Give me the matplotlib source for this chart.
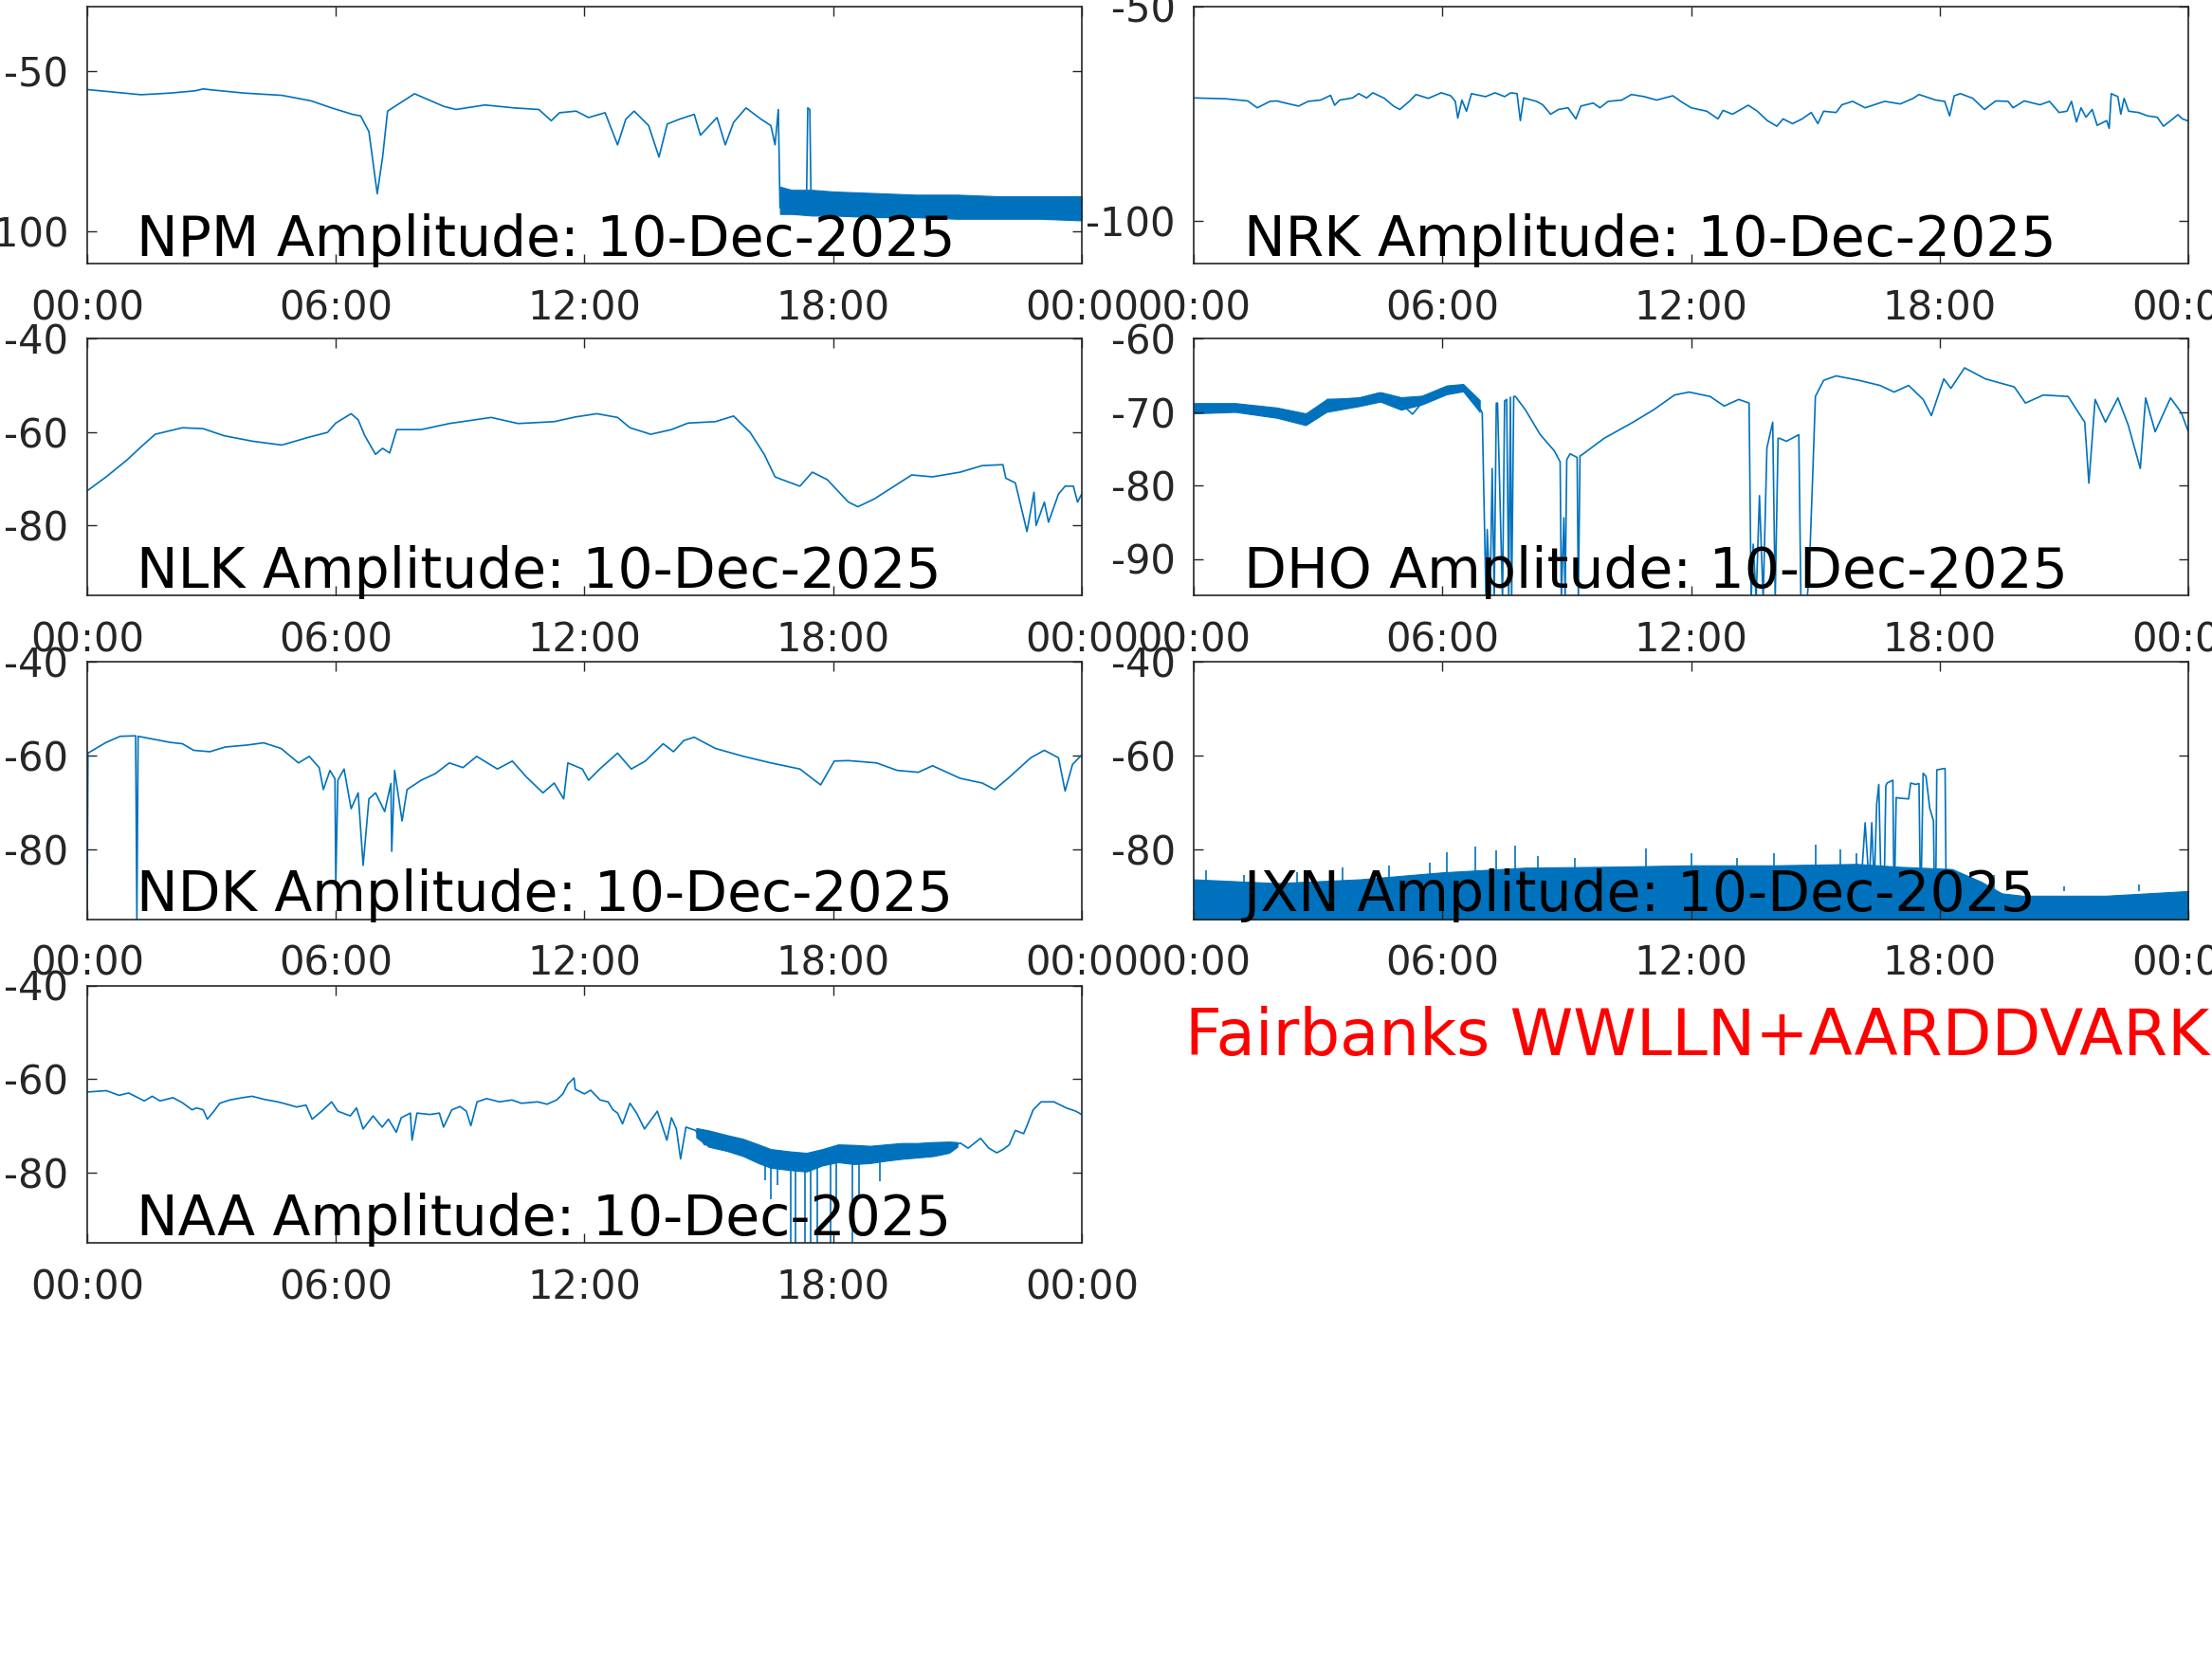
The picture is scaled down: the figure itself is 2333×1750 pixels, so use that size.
import matplotlib
matplotlib.use("Agg")
import matplotlib.pyplot as plt

# czas w godzinach (UTC), amplituda w dB
hour_ticks = [0, 6, 12, 18, 24]
hour_labels = ["00:00", "06:00", "12:00", "18:00", "00:00"]
date_str = "10-Dec-2025"

# --- NPM ---
npm_t = [0, 1.3, 2.0, 2.6, 2.8, 3.0, 3.8, 4.7, 5.4, 5.9,
         6.4, 6.6, 6.8, 7.0, 7.13, 7.25, 7.55, 7.9, 8.6, 8.9,
         9.6, 10.3, 10.9, 11.2, 11.4, 11.8, 12.1, 12.5, 12.8, 13.0,
         13.2, 13.55, 13.8, 14.0, 14.3, 14.65, 14.8, 15.2, 15.4, 15.6,
         15.9, 16.26, 16.5, 16.6, 16.68, 16.72, 16.8, 17.36, 17.39, 17.44,
         17.47, 24]
npm_v = [-55.8, -57.4, -56.9, -56.2, -55.6, -55.9, -56.9, -57.6, -59.3, -61.5,
         -63.5, -64.0, -68.9, -88.2, -76.8, -62.5, -60.0, -57.1, -61.0, -62.0,
         -60.6, -61.5, -62.0, -65.5, -63.0, -62.5, -64.5, -63.0, -73.0, -65.0,
         -62.5, -67.0, -76.8, -66.5, -65.0, -63.5, -70.0, -64.5, -73.0, -66.0,
         -61.5, -65.0, -67.0, -73.0, -62.0, -92.6, -90.0, -90.5, -61.5, -62.0,
         -91.5, -93.0]
npm_band_t = [16.72, 17.0, 17.5, 18.0, 19.0, 20.0, 21.0, 22.0, 23.0, 24.0]
npm_band_lo = [-94.5, -94.5, -95.0, -95.0, -95.5, -95.5, -96.0, -96.0, -96.0, -96.5]
npm_band_hi = [-86.0, -87.0, -87.0, -87.5, -88.0, -88.5, -88.5, -89.0, -89.0, -89.0]

# --- NRK ---
nrk_t = [0, 0.77, 1.3, 1.53, 1.84, 2.0, 2.3, 2.53, 2.76, 3.06,
         3.3, 3.4, 3.52, 3.83, 3.98, 4.17, 4.32, 4.6, 4.82, 4.97,
         5.2, 5.36, 5.66, 5.97, 6.2, 6.31, 6.37, 6.47, 6.58, 6.7,
         7.04, 7.27, 7.5, 7.65, 7.8, 7.88, 7.96, 8.27, 8.42, 8.61,
         8.8, 9.03, 9.22, 9.34, 9.64, 9.8, 10.0, 10.33, 10.56, 10.87,
         11.17, 11.56, 11.75, 12.0, 12.38, 12.65, 12.77, 13.0, 13.38, 13.6,
         13.84, 14.07, 14.22, 14.45, 14.68, 14.9, 15.06, 15.2, 15.5, 15.64,
         15.9, 16.2, 16.67, 17.05, 17.36, 17.5, 17.9, 18.12, 18.24, 18.35,
         18.5, 18.8, 19.08, 19.35, 19.65, 19.77, 20.04, 20.42, 20.65, 20.88,
         21.07, 21.18, 21.3, 21.41, 21.53, 21.68, 21.8, 22.03, 22.09, 22.14,
         22.3, 22.37, 22.45, 22.56, 22.8, 23.02, 23.25, 23.4, 23.56, 23.75,
         23.86, 24]
nrk_v = [-71.3, -71.5, -72.0, -73.6, -72.1, -72.0, -72.7, -73.2, -72.1, -71.8,
         -70.7, -73.0, -71.8, -71.3, -70.3, -71.3, -70.1, -71.4, -73.2, -74.0,
         -72.1, -70.5, -71.4, -70.1, -70.8, -72.1, -76.0, -71.8, -74.4, -70.3,
         -71.0, -70.1, -71.0, -70.1, -70.3, -76.6, -71.3, -72.1, -72.9, -75.1,
         -74.0, -73.6, -76.2, -73.2, -72.5, -73.6, -72.1, -71.8, -70.5, -71.0,
         -71.8, -70.8, -72.1, -73.6, -74.4, -76.2, -74.2, -75.1, -73.0, -74.4,
         -76.6, -77.9, -76.2, -77.3, -76.2, -74.7, -77.3, -74.4, -74.7, -72.9,
         -72.1, -73.6, -72.1, -72.7, -71.4, -70.5, -71.8, -72.1, -75.5, -70.8,
         -70.3, -71.4, -74.0, -72.0, -72.1, -73.6, -72.0, -72.9, -72.1, -74.7,
         -74.4, -72.1, -76.9, -73.6, -75.8, -74.0, -77.7, -76.6, -78.4, -70.3,
         -71.0, -75.1, -71.4, -74.4, -74.7, -75.5, -75.8, -77.9, -76.7, -75.2,
         -76.2, -76.7]

# --- NLK ---
nlk_t = [0, 0.46, 0.96, 1.3, 1.64, 2.3, 2.8, 3.3, 4.0, 4.7,
         5.36, 5.8, 6.0, 6.37, 6.54, 6.7, 6.96, 7.13, 7.3, 7.47,
         8.06, 8.74, 9.75, 10.4, 11.27, 11.78, 12.3, 12.8, 13.1, 13.6,
         14.1, 14.5, 15.16, 15.6, 16.0, 16.34, 16.6, 16.77, 17.2, 17.5,
         17.86, 18.37, 18.6, 19.0, 19.9, 20.4, 21.07, 21.6, 22.1, 22.17,
         22.4, 22.68, 22.85, 22.9, 23.1, 23.2, 23.44, 23.6, 23.8, 23.9,
         24]
nlk_v = [-72.6, -69.6, -66.0, -63.2, -60.5, -59.1, -59.3, -60.8, -62.0, -62.8,
         -61.1, -60.1, -58.1, -56.1, -57.4, -60.8, -64.8, -63.5, -64.5, -59.5,
         -59.5, -58.2, -56.9, -58.2, -57.8, -56.8, -56.1, -56.9, -59.1, -60.5,
         -59.5, -58.1, -57.8, -56.6, -60.1, -64.8, -69.6, -70.2, -71.6, -68.6,
         -70.2, -75.0, -76.0, -74.3, -69.2, -69.6, -68.6, -67.2, -67.0, -69.9,
         -70.9, -81.3, -72.9, -80.0, -75.0, -79.3, -73.3, -71.6, -71.6, -75.0,
         -73.3]

# --- DHO ---
dho_t = [0, 0.84, 1.7, 2.55, 2.9, 3.23, 3.9, 4.43, 4.94, 5.28,
         5.6, 6.1, 6.48, 6.74, 6.96, 7.05, 7.08, 7.15, 7.2, 7.25,
         7.3, 7.33, 7.45, 7.5, 7.55, 7.6, 7.64, 7.67, 7.72, 7.76,
         8.0, 8.36, 8.7, 8.84, 8.87, 8.93, 8.96, 9.0, 9.08, 9.25,
         9.28, 9.32, 9.4, 9.9, 10.6, 11.1, 11.6, 11.95, 12.46, 12.8,
         13.15, 13.4, 13.45, 13.5, 13.57, 13.65, 13.74, 13.83, 13.97, 14.03,
         14.1, 14.14, 14.3, 14.6, 14.65, 14.8, 14.85, 14.94, 15.0, 15.2,
         15.5, 16.05, 16.56, 16.9, 17.25, 17.6, 17.8, 18.1, 18.27, 18.6,
         19.1, 19.8, 20.07, 20.5, 21.1, 21.35, 21.5, 21.6, 21.75, 22.0,
         22.3, 22.55, 22.84, 22.97, 23.2, 23.57, 23.83, 24]
dho_v = [-69.2, -69.0, -69.9, -71.0, -70.1, -68.3, -68.3, -67.5, -68.6, -70.3,
         -68.1, -66.8, -66.4, -67.9, -70.1, -95.5, -86.0, -95.5, -77.7, -95.5,
         -68.8, -68.8, -95.5, -68.5, -68.3, -95.5, -68.0, -95.5, -67.9, -67.9,
         -69.7, -73.1, -75.3, -76.8, -95.5, -84.4, -95.5, -76.5, -75.7, -76.2,
         -95.5, -76.0, -75.7, -73.6, -71.4, -69.7, -67.7, -67.3, -67.9, -69.2,
         -68.3, -68.8, -95.5, -88.0, -95.5, -81.4, -95.5, -74.9, -71.4, -95.5,
         -73.6, -73.6, -74.0, -73.1, -95.5, -95.5, -92.0, -77.9, -67.9, -65.7,
         -65.1, -65.7, -66.4, -67.3, -66.4, -68.3, -70.5, -65.5, -66.8, -64.0,
         -65.5, -66.6, -68.8, -67.7, -67.9, -70.1, -71.4, -79.7, -68.3, -71.4,
         -68.1, -71.8, -77.7, -68.1, -72.7, -68.1, -70.1, -72.7]
dho_band_t = [0, 1.0, 2.0, 2.7, 3.2, 4.0, 4.5, 5.0, 5.5, 6.1, 6.5, 6.9]
dho_band_lo = [-70.2, -70.0, -70.8, -71.8, -70.0, -69.2, -68.6, -69.7, -69.0, -67.6, -67.2, -70.0]
dho_band_hi = [-68.8, -68.8, -69.4, -70.2, -68.3, -68.0, -67.3, -68.0, -67.8, -66.4, -66.2, -68.4]

# --- NDK ---
ndk_t = [0, 0.02, 0.46, 0.8, 1.17, 1.2, 1.23, 2.0, 2.3, 2.57,
         2.96, 3.33, 3.84, 4.26, 4.68, 5.1, 5.36, 5.6, 5.7, 5.86,
         5.98, 6.0, 6.05, 6.2, 6.37, 6.54, 6.66, 6.8, 6.96, 7.18,
         7.33, 7.35, 7.42, 7.6, 7.72, 8.06, 8.4, 8.74, 9.07, 9.4,
         9.9, 10.26, 10.6, 11.0, 11.27, 11.5, 11.6, 11.95, 12.1, 12.37,
         12.8, 13.13, 13.47, 13.9, 14.15, 14.4, 14.65, 15.16, 15.84, 16.5,
         17.2, 17.7, 18.03, 18.37, 19.05, 19.55, 20.06, 20.4, 21.07, 21.6,
         21.9, 22.26, 22.77, 23.1, 23.44, 23.6, 23.78, 24]
ndk_v = [-95.5, -59.5, -57.2, -55.9, -55.8, -95.5, -55.9, -57.2, -57.5, -58.9,
         -59.2, -58.2, -57.8, -57.3, -58.5, -61.6, -60.2, -62.6, -67.3, -63.2,
         -65.0, -87.6, -65.3, -62.9, -71.4, -68.0, -83.5, -69.3, -68.0, -72.0,
         -66.0, -80.5, -63.2, -74.0, -67.3, -65.3, -63.9, -61.6, -62.6, -60.2,
         -62.9, -61.2, -64.6, -68.0, -65.9, -69.3, -61.6, -62.9, -65.3, -62.9,
         -59.5, -62.9, -61.2, -57.5, -59.2, -56.8, -56.1, -58.5, -60.2, -61.6,
         -62.9, -66.3, -61.2, -61.1, -61.6, -63.2, -63.6, -62.2, -64.9, -65.9,
         -67.3, -64.6, -60.5, -58.9, -60.5, -67.6, -61.9, -59.9]

# --- JXN ---
jxn_band_t = [0, 2, 4, 6, 8, 10, 12, 14, 16, 17, 18.3, 19, 19.5, 20, 22, 24]
jxn_band_hi = [-86.5, -87.3, -86.5, -85.0, -84.0, -83.8, -83.5, -83.5, -83.2, -83.8, -84.3, -87.0, -89.5, -90.0, -90.0, -89.0]
jxn_band_lo = [-95.5, -95.5, -95.5, -95.5, -95.5, -95.5, -95.5, -95.5, -95.5, -95.5, -95.5, -95.5, -95.5, -95.5, -95.5, -95.5]
jxn_spike_t = [0.3, 1.2, 2.5, 3.6, 4.7, 5.7, 6.1, 6.8, 7.3, 7.76, 8.3, 9.2,
               10.9, 12.0, 13.1, 14.0, 15.0, 15.6, 16.0, 19.3, 21.0, 22.8]
jxn_spike_top = [-84.5, -85.5, -85.0, -84.0, -83.5, -83.0, -80.7, -79.5, -80.3, -79.3, -81.5, -82.0,
                 -79.8, -81.0, -82.0, -81.0, -79.1, -80.0, -81.0, -85.5, -88.0, -87.5]
jxn_step_t = [16.1, 16.2, 16.3, 16.36, 16.42, 16.48, 16.53, 16.6, 16.65, 16.7,
              16.73, 16.87, 16.9, 16.95, 17.0, 17.25, 17.3, 17.42, 17.5, 17.54,
              17.6, 17.67, 17.76, 17.85, 17.88, 17.9, 17.93, 18.1, 18.13, 18.16]
jxn_step_v = [-88.0, -74.4, -88.0, -74.4, -88.0, -70.3, -66.2, -94.0, -94.0, -66.5,
              -65.9, -65.3, -94.0, -69.0, -69.1, -69.3, -65.9, -66.2, -66.0, -94.0,
              -63.8, -64.5, -71.3, -74.0, -94.0, -94.0, -63.1, -62.8, -62.8, -94.0]

# --- NAA ---
naa_t = [0, 0.46, 0.77, 1.0, 1.38, 1.57, 1.76, 2.07, 2.3, 2.53,
         2.64, 2.8, 2.9, 3.06, 3.2, 3.44, 3.75, 3.98, 4.29, 4.6,
         4.9, 5.05, 5.28, 5.43, 5.66, 5.9, 6.05, 6.35, 6.5, 6.66,
         6.9, 7.12, 7.27, 7.46, 7.58, 7.8, 7.84, 7.96, 8.27, 8.5,
         8.6, 8.8, 9.0, 9.15, 9.26, 9.41, 9.64, 9.95, 10.25, 10.48,
         10.87, 11.1, 11.33, 11.48, 11.6, 11.75, 11.78, 12.0, 12.15, 12.38,
         12.57, 12.69, 12.8, 12.92, 13.1, 13.26, 13.45, 13.76, 13.99, 14.1,
         14.22, 14.32, 14.45, 14.68, 14.9, 15.06, 15.44, 15.83, 15.98, 16.2,
         16.44, 16.74, 16.97, 17.36, 17.74, 18.12, 18.5, 18.89, 19.27, 19.65,
         20.04, 20.42, 20.8, 21.07, 21.26, 21.56, 21.76, 21.95, 22.1, 22.25,
         22.4, 22.6, 22.68, 22.83, 23.02, 23.33, 23.63, 23.86, 24]
naa_v = [-62.8, -62.5, -63.5, -63.0, -64.7, -63.7, -64.7, -64.0, -65.1, -66.6,
         -66.2, -66.6, -68.6, -66.9, -65.2, -64.5, -64.0, -63.7, -64.4, -64.9,
         -65.6, -66.0, -65.6, -68.6, -66.9, -64.9, -66.9, -67.9, -66.2, -70.7,
         -67.9, -70.3, -68.6, -71.4, -68.3, -67.3, -73.1, -67.3, -67.6, -67.3,
         -70.3, -66.6, -65.9, -66.9, -70.0, -64.9, -64.2, -64.9, -64.5, -65.2,
         -64.9, -65.4, -64.5, -63.2, -61.1, -59.8, -62.2, -63.2, -62.4, -64.5,
         -64.9, -66.6, -67.3, -69.6, -65.2, -67.3, -70.7, -66.9, -73.1, -68.3,
         -70.7, -77.1, -70.3, -71.0, -74.1, -71.4, -73.4, -74.1, -76.5, -75.8,
         -77.5, -77.8, -77.1, -78.2, -76.1, -75.4, -75.4, -76.1, -75.8, -75.1,
         -75.1, -75.1, -74.8, -73.7, -74.8, -72.7, -74.8, -75.8, -75.1, -74.1,
         -71.0, -71.7, -70.0, -66.6, -64.9, -64.9, -66.2, -66.9, -67.6]
naa_band_t = [14.7, 15.0, 15.44, 15.83, 16.2, 16.5, 16.97, 17.36, 17.74, 18.12, 18.5, 18.89, 19.27, 19.65, 20.04, 20.42, 20.8, 21.0]
naa_band_lo = [-72.5, -74.5, -75.4, -76.5, -78.0, -79.0, -79.5, -79.8, -78.5, -77.8, -78.2, -78.0, -77.5, -77.1, -76.8, -76.5, -75.8, -74.5]
naa_band_hi = [-70.5, -71.0, -72.0, -72.8, -74.0, -75.0, -75.5, -75.8, -75.0, -74.0, -74.1, -74.3, -74.0, -73.7, -73.7, -73.5, -73.4, -73.5]
naa_drop_t = [16.36, 16.5, 16.67, 16.97, 17.09, 17.32, 17.47, 17.62, 17.93, 18.08, 18.47, 18.62, 19.12]
naa_drop_lo = [-81.6, -85.7, -82.6, -95.5, -95.5, -95.5, -95.5, -95.5, -95.5, -85.7, -95.5, -85.0, -81.9]

kolor = "#0072BD"
szary = "#262626"

fig = plt.figure(figsize=(23.33, 17.5), dpi=100)

# pozycje osi [lewo, dol, szerokosc, wysokosc] w ulamkach figury
lewa_x, prawa_x, szer = 0.0394, 0.5397, 0.4496
wys = 0.155
rzedy = [0.841, 0.641, 0.446, 0.251]


def przygotuj_os(ax, ylim, yticks, nazwa):
    ax.set_xlim(0, 24)
    ax.set_ylim(*ylim)
    ax.set_xticks(hour_ticks)
    ax.set_xticklabels(hour_labels)
    ax.set_yticks(yticks)
    ax.set_yticklabels([str(v) for v in yticks])
    ax.tick_params(axis="both", direction="in", length=7, width=1.0,
                   colors=szary, labelsize=30, top=True, right=True)
    ax.tick_params(axis="x", pad=19)
    ax.tick_params(axis="y", pad=14)
    for s in ax.spines.values():
        s.set_color(szary)
        s.set_linewidth(1.2)
    ax.text(0.05, 0.03, nazwa + " Amplitude: " + date_str, transform=ax.transAxes,
            fontsize=42, color="black", va="baseline", ha="left", zorder=10)


# NPM
ax = fig.add_axes([lewa_x, rzedy[0], szer, wys])
ax.fill_between(npm_band_t, npm_band_lo, npm_band_hi, color=kolor, lw=0.8)
ax.plot(npm_t, npm_v, color=kolor, lw=1.2)
przygotuj_os(ax, (-110, -30), [-100, -50], "NPM")

# NRK
ax = fig.add_axes([prawa_x, rzedy[0], szer, wys])
ax.plot(nrk_t, nrk_v, color=kolor, lw=1.2)
przygotuj_os(ax, (-110, -50), [-100, -50], "NRK")

# NLK
ax = fig.add_axes([lewa_x, rzedy[1], szer, wys])
ax.plot(nlk_t, nlk_v, color=kolor, lw=1.2)
przygotuj_os(ax, (-95, -40), [-80, -60, -40], "NLK")

# DHO
ax = fig.add_axes([prawa_x, rzedy[1], szer, wys])
ax.fill_between(dho_band_t, dho_band_lo, dho_band_hi, color=kolor, lw=0.8)
ax.plot(dho_t, dho_v, color=kolor, lw=1.2)
przygotuj_os(ax, (-95, -60), [-90, -80, -70, -60], "DHO")

# NDK
ax = fig.add_axes([lewa_x, rzedy[2], szer, wys])
ax.plot(ndk_t, ndk_v, color=kolor, lw=1.2)
przygotuj_os(ax, (-95, -40), [-80, -60, -40], "NDK")

# JXN
ax = fig.add_axes([prawa_x, rzedy[2], szer, wys])
ax.fill_between(jxn_band_t, jxn_band_lo, jxn_band_hi, color=kolor, lw=0.8)
ax.vlines(jxn_spike_t, -89, jxn_spike_top, color=kolor, lw=1.2)
ax.plot(jxn_step_t, jxn_step_v, color=kolor, lw=1.2)
przygotuj_os(ax, (-95, -40), [-80, -60, -40], "JXN")

# NAA
ax = fig.add_axes([lewa_x, rzedy[3], szer, wys])
ax.fill_between(naa_band_t, naa_band_lo, naa_band_hi, color=kolor, lw=0.8)
ax.vlines(naa_drop_t, naa_drop_lo, -77, color=kolor, lw=1.2)
ax.plot(naa_t, naa_v, color=kolor, lw=1.2)
przygotuj_os(ax, (-95, -40), [-80, -60, -40], "NAA")

fig.text(0.536, 0.364, "Fairbanks WWLLN+AARDDVARK", color="red",
         fontsize=48.5, ha="left", va="baseline")

fig.savefig("out.png", dpi=100)
